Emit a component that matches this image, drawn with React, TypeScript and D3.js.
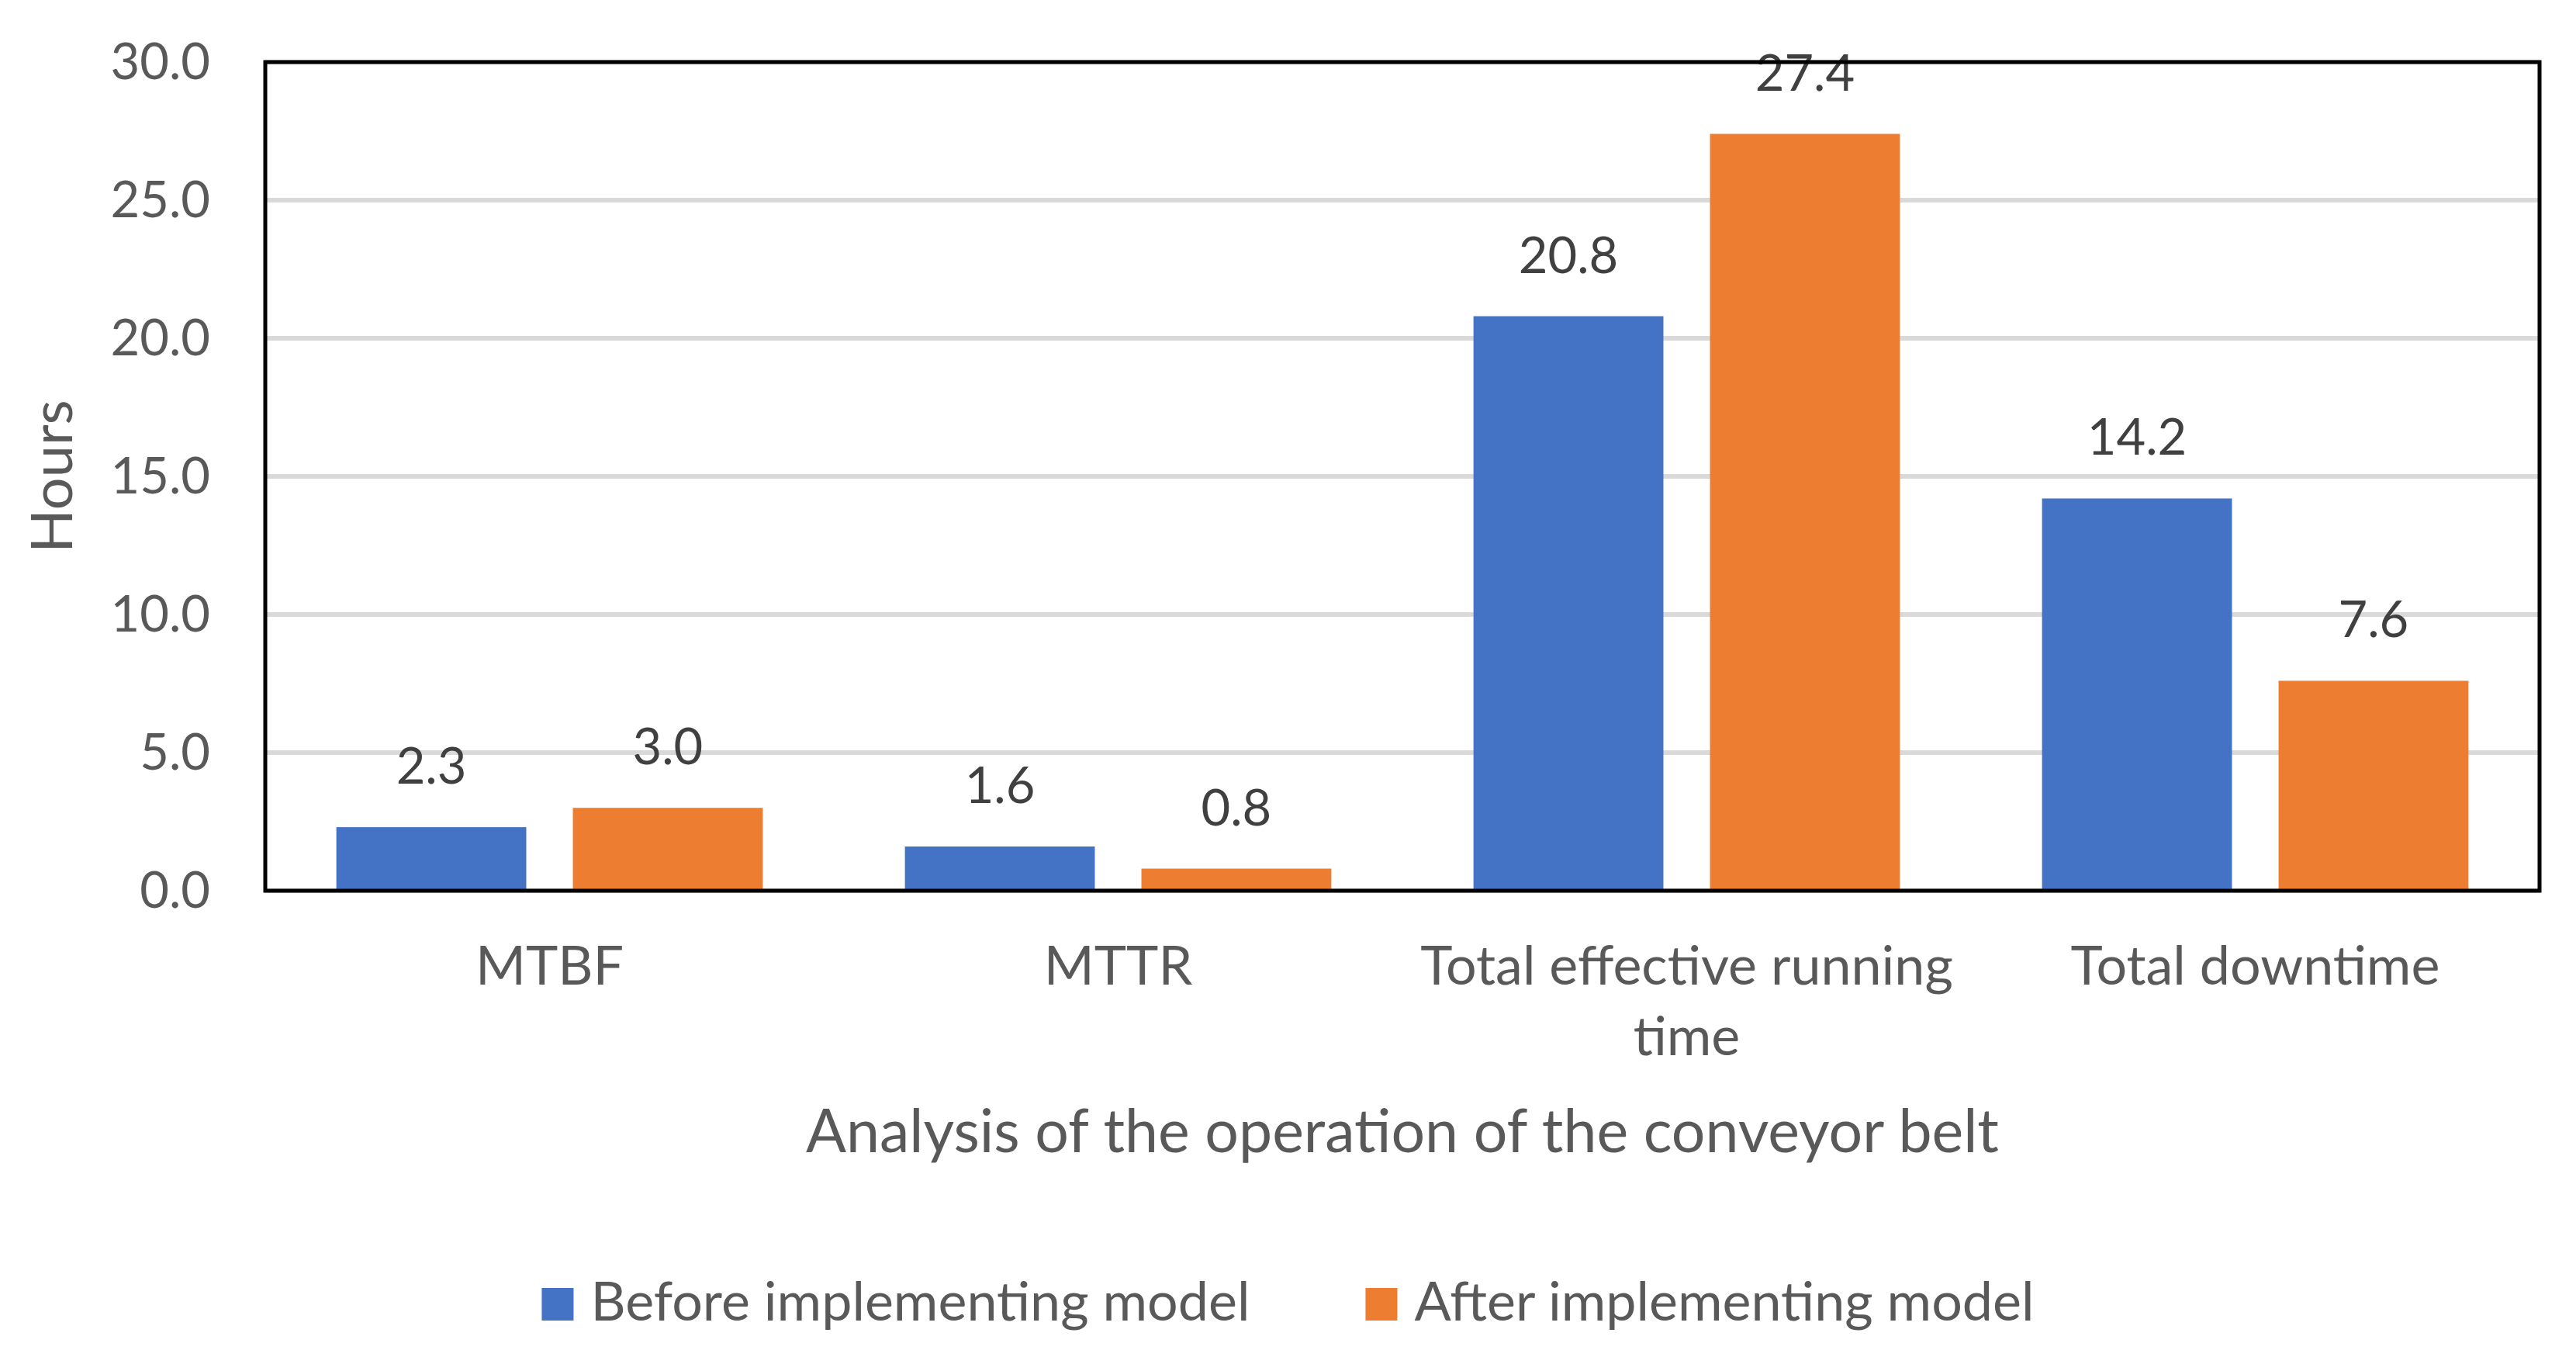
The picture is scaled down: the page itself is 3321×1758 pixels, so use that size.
import { useEffect, useRef } from 'react';
import * as d3 from 'd3';

const categories = ['MTBF', 'MTTR', 'Total effective running time', 'Total downtime'];
const seriesNames = ['Before implementing model', 'After implementing model'];
const beforeValues = [2.3, 1.6, 20.8, 14.2];
const afterValues = [3.0, 0.8, 27.4, 7.6];
const yTicks = [0, 5, 10, 15, 20, 25, 30];
const colors = ['#4472C4', '#ED7D31'];

const WIDTH = 3321;
const HEIGHT = 1758;
const FONT = 'Lato, "Open Sans", sans-serif';

export default function App() {
  const svgRef = useRef<SVGSVGElement>(null);

  useEffect(() => {
    if (!svgRef.current) return;
    const svg = d3.select(svgRef.current);
    svg.selectAll('*').remove();

    const plot = { left: 342, right: 3274, top: 80, bottom: 1148 };

    const x = d3.scaleBand<string>()
      .domain(categories)
      .range([plot.left, plot.right])
      .paddingInner(0.25)
      .paddingOuter(0.125);

    const xInner = d3.scaleBand<string>()
      .domain(seriesNames)
      .range([0, x.bandwidth()])
      .paddingInner(0.197);

    const y = d3.scaleLinear().domain([0, 30]).range([plot.bottom, plot.top]);

    const rows = categories.map((c, i) => ({
      category: c,
      values: [beforeValues[i], afterValues[i]],
    }));

    // gridlines
    svg.append('g')
      .selectAll('line')
      .data(yTicks)
      .enter().append('line')
      .attr('x1', plot.left)
      .attr('x2', plot.right)
      .attr('y1', d => y(d))
      .attr('y2', d => y(d))
      .attr('stroke', '#d9d9d9')
      .attr('stroke-width', 6);

    // bars
    const groups = svg.append('g')
      .selectAll('g')
      .data(rows)
      .enter().append('g')
      .attr('transform', d => `translate(${x(d.category)},0)`);

    groups.selectAll('rect')
      .data(d => d.values.map((v, k) => ({ v, k })))
      .enter().append('rect')
      .attr('x', d => xInner(seriesNames[d.k])!)
      .attr('width', xInner.bandwidth())
      .attr('y', d => y(d.v))
      .attr('height', d => y(0) - y(d.v))
      .attr('fill', d => colors[d.k]);

    groups.selectAll('text')
      .data(d => d.values.map((v, k) => ({ v, k })))
      .enter().append('text')
      .attr('x', d => xInner(seriesNames[d.k])! + xInner.bandwidth() / 2)
      .attr('y', d => y(d.v) - 56)
      .attr('text-anchor', 'middle')
      .attr('fill', '#404040')
      .style('font-family', FONT)
      .style('font-size', '65px')
      .text(d => d3.format('.1f')(d.v));

    // plot border
    svg.append('rect')
      .attr('x', plot.left)
      .attr('y', plot.top)
      .attr('width', plot.right - plot.left)
      .attr('height', plot.bottom - plot.top)
      .attr('fill', 'none')
      .attr('stroke', '#000')
      .attr('stroke-width', 5);

    // y tick labels
    svg.append('g')
      .selectAll('text')
      .data(yTicks)
      .enter().append('text')
      .attr('x', 271)
      .attr('y', d => y(d) + 22)
      .attr('text-anchor', 'end')
      .attr('fill', '#595959')
      .style('font-family', FONT)
      .style('font-size', '65px')
      .text(d => d3.format('.1f')(d));

    // category labels, wrapped to the band step
    const step = x.step();
    categories.forEach(c => {
      const t = svg.append('text')
        .attr('text-anchor', 'middle')
        .attr('fill', '#595959')
        .style('font-family', FONT)
        .style('font-size', '70px');
      const cx = x(c)! + x.bandwidth() / 2;
      const words = c.split(' ');
      const lines: string[] = [];
      let line: string[] = [];
      const probe = t.append('tspan');
      words.forEach(w => {
        const test = [...line, w].join(' ');
        probe.text(test);
        if ((probe.node() as SVGTSpanElement).getComputedTextLength() > step * 0.98 && line.length) {
          lines.push(line.join(' '));
          line = [w];
        } else {
          line.push(w);
        }
      });
      lines.push(line.join(' '));
      probe.remove();
      lines.forEach((l, i) => {
        t.append('tspan')
          .attr('x', cx)
          .attr('y', 1269 + i * 91)
          .text(l);
      });
    });

    // axis titles
    svg.append('text')
      .attr('x', (plot.left + plot.right) / 2)
      .attr('y', 1485)
      .attr('text-anchor', 'middle')
      .attr('fill', '#595959')
      .style('font-family', FONT)
      .style('font-size', '77px')
      .text('Analysis of the operation of the conveyor belt');

    svg.append('text')
      .attr('transform', `translate(93,${(plot.top + plot.bottom) / 2}) rotate(-90)`)
      .attr('text-anchor', 'middle')
      .attr('fill', '#595959')
      .style('font-family', FONT)
      .style('font-size', '74px')
      .text('Hours');

    // legend
    const sw = 41;
    const itemGap = 149;
    const legend = svg.append('g');
    let cursor = 0;
    seriesNames.forEach((name, i) => {
      const item = legend.append('g').attr('transform', `translate(${cursor},0)`);
      item.append('rect')
        .attr('x', 0)
        .attr('y', -42)
        .attr('width', sw)
        .attr('height', 42)
        .attr('fill', colors[i]);
      const label = item.append('text')
        .attr('x', sw + 22)
        .attr('y', 0)
        .attr('fill', '#595959')
        .style('font-family', FONT)
        .style('font-size', '70px')
        .text(name);
      const w = (label.node() as SVGTextElement).getComputedTextLength();
      cursor += sw + 22 + w + itemGap;
    });
    const total = cursor - itemGap;
    legend.attr('transform', `translate(${WIDTH / 2 - total / 2},1702)`);
  }, []);

  return (
    <svg
      ref={svgRef}
      width={WIDTH}
      height={HEIGHT}
      style={{ position: 'absolute', left: 0, top: 0, background: '#fff' }}
    />
  );
}
